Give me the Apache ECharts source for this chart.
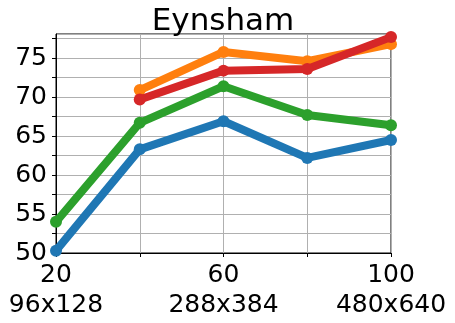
<!DOCTYPE html>
<html>
<head>
<meta charset="utf-8">
<script src="https://cdn.jsdelivr.net/npm/echarts@6/dist/echarts.min.js"></script>
<style>
  html, body { margin: 0; padding: 0; background: #fff; }
  #chart { width: 455px; height: 323px; }
</style>
</head>
<body>
<div id="chart"></div>
<script>
// x positions and their labels
const xValues = [20, 40, 60, 80, 100]
const xLabels = { 20: '20\n96x128', 60: '60\n288x384', 100: '100\n480x640' }

// series values (null = no point)
const blue = [50.3, 63.3, 66.9, 62.2, 64.5]
const orange = [null, 70.9, 75.8, 74.6, 76.8]
const green = [54.0, 66.7, 71.4, 67.7, 66.4]
const red = [null, 69.7, 73.4, 73.6, 77.7]

const colors = ['#1f77b4', '#ff7f0e', '#2ca02c', '#d62728']
const font = 'DejaVu Sans'

function pairs(vals) {
  return xValues.map((x, i) => [x, vals[i]]).filter((p) => p[1] !== null)
}

const chart = echarts.init(document.getElementById('chart'))

const series = [blue, orange, green, red].map((vals, i) => ({
  type: 'line',
  data: pairs(vals),
  symbol: 'circle',
  symbolSize: 12,
  lineStyle: { width: 8, color: colors[i] },
  itemStyle: { color: colors[i] },
  animation: false,
  z: 2 + i,
}))

chart.setOption({
  animation: false,
  title: {
    text: 'Eynsham',
    left: 218,
    top: 1,
    textAlign: 'center',
    textStyle: { fontFamily: font, fontSize: 31, fontWeight: 'normal', color: '#000' },
  },
  grid: {
    left: 56,
    right: 64,
    top: 34,
    bottom: 70,
    show: true,
    borderColor: '#000',
    borderWidth: 1,
    backgroundColor: 'transparent',
  },
  xAxis: {
    type: 'value',
    min: 20,
    max: 100,
    interval: 20,
    axisLine: { show: true, lineStyle: { color: '#000', width: 1 } },
    axisTick: { show: true, length: 4, lineStyle: { color: '#000' } },
    splitLine: { show: true, lineStyle: { color: '#b0b0b0', width: 1 } },
    axisLabel: {
      margin: 7,
      fontFamily: font,
      fontSize: 25,
      lineHeight: 30,
      color: '#000',
      formatter: (v) => xLabels[v] || '',
    },
  },
  yAxis: {
    type: 'value',
    min: 50,
    max: 78.1,
    interval: 2.5,
    axisLine: { show: true, lineStyle: { color: '#000', width: 1 } },
    axisTick: { show: true, length: 4, lineStyle: { color: '#000' } },
    splitLine: { show: true, lineStyle: { color: '#b0b0b0', width: 1 } },
    axisLabel: {
      margin: 9,
      fontFamily: font,
      fontSize: 25,
      color: '#000',
      showMaxLabel: false,
      formatter: (v) => (Math.abs(v % 5) < 1e-9 ? String(v) : ''),
    },
  },
  series: series,
})
</script>
</body>
</html>
